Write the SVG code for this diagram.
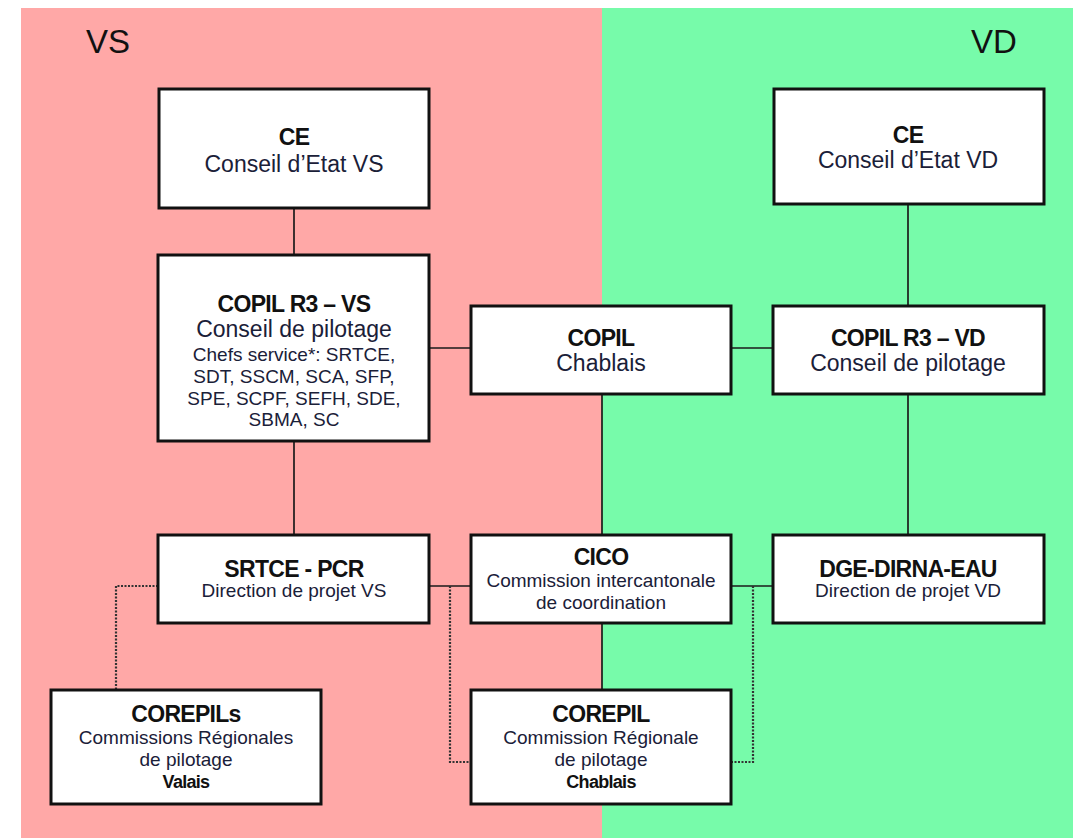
<svg xmlns="http://www.w3.org/2000/svg" width="1078" height="839" viewBox="0 0 1078 839">
<style>
.box{fill:#fff;stroke:#111;stroke-width:3}
.t{font-family:"Liberation Sans",Arial,sans-serif;font-size:23px;font-weight:bold;fill:#111;text-anchor:middle;letter-spacing:-0.7px}
.s{font-family:"Liberation Sans",Arial,sans-serif;font-size:23px;fill:#1a2038;text-anchor:middle}
.m{font-family:"Liberation Sans",Arial,sans-serif;font-size:19px;fill:#1a2038;text-anchor:middle}
.b{font-family:"Liberation Sans",Arial,sans-serif;font-size:18px;font-weight:bold;fill:#111;text-anchor:middle;letter-spacing:-0.7px}
.h{font-family:"Liberation Sans",Arial,sans-serif;font-size:33px;fill:#111}
.ln{stroke:#1a1a1a;stroke-width:1.7;fill:none}
.dt{stroke:#333;stroke-width:2.2;stroke-dasharray:2 1.5;fill:none}
</style>
<rect x="0" y="0" width="1078" height="839" fill="#fff"/>
<rect x="21" y="8" width="581" height="830" fill="#ffa8a7"/>
<rect x="602" y="8" width="471" height="830" fill="#77fbaa"/>
<text class="h" x="86" y="53">VS</text>
<text class="h" x="971" y="53">VD</text>

<g id="connectors">
<line class="ln" x1="294" y1="207" x2="294" y2="255"/>
<line class="ln" x1="908" y1="204" x2="908" y2="306"/>
<line class="ln" x1="429" y1="348" x2="471" y2="348"/>
<line class="ln" x1="731" y1="348" x2="773" y2="348"/>
<line class="ln" x1="908" y1="394" x2="908" y2="535"/>
<line class="ln" x1="294" y1="441" x2="294" y2="535"/>
<line class="ln" x1="602" y1="394" x2="602" y2="535"/>
<line class="ln" x1="602" y1="623" x2="602" y2="690"/>
<line class="ln" x1="429" y1="586" x2="471" y2="586"/>
<line class="ln" x1="731" y1="586" x2="773" y2="586"/>
<path class="dt" d="M158 586 H116 V690"/>
<path class="dt" d="M450 586 V762 H471"/>
<path class="dt" d="M753 586 V762 H731"/>
</g>

<g id="ce-vs">
<rect class="box" x="159" y="89" width="270" height="119"/>
<text class="t" x="294" y="145">CE</text>
<text class="s" x="294" y="172">Conseil d’Etat VS</text>
</g>
<g id="ce-vd">
<rect class="box" x="774" y="89" width="270" height="115"/>
<text class="t" x="908" y="143">CE</text>
<text class="s" x="908" y="168">Conseil d’Etat VD</text>
</g>
<g id="copil-vs">
<rect class="box" x="158" y="255" width="271" height="186"/>
<text class="t" x="294" y="312">COPIL R3 – VS</text>
<text class="s" x="294" y="337">Conseil de pilotage</text>
<text class="m" x="294" y="361">Chefs service*: SRTCE,</text>
<text class="m" x="294" y="383">SDT, SSCM, SCA, SFP,</text>
<text class="m" x="294" y="405">SPE, SCPF, SEFH, SDE,</text>
<text class="m" x="294" y="426">SBMA, SC</text>
</g>
<g id="copil-chablais">
<rect class="box" x="471" y="306" width="260" height="88"/>
<text class="t" x="601" y="346">COPIL</text>
<text class="s" x="601" y="371">Chablais</text>
</g>
<g id="copil-vd">
<rect class="box" x="773" y="306" width="271" height="88"/>
<text class="t" x="908" y="346">COPIL R3 – VD</text>
<text class="s" x="908" y="371">Conseil de pilotage</text>
</g>
<g id="srtce">
<rect class="box" x="158" y="535" width="271" height="88"/>
<text class="t" x="294" y="577">SRTCE - PCR</text>
<text class="m" x="294" y="597">Direction de projet VS</text>
</g>
<g id="cico">
<rect class="box" x="471" y="535" width="260" height="88"/>
<text class="t" x="601" y="565">CICO</text>
<text class="m" x="601" y="587">Commission intercantonale</text>
<text class="m" x="601" y="609">de coordination</text>
</g>
<g id="dge">
<rect class="box" x="773" y="535" width="271" height="88"/>
<text class="t" x="908" y="577">DGE-DIRNA-EAU</text>
<text class="m" x="908" y="597">Direction de projet VD</text>
</g>
<g id="corepils">
<rect class="box" x="51" y="690" width="270" height="114"/>
<text class="t" x="186" y="722">COREPILs</text>
<text class="m" x="186" y="744">Commissions Régionales</text>
<text class="m" x="186" y="766">de pilotage</text>
<text class="b" x="186" y="788">Valais</text>
</g>
<g id="corepil">
<rect class="box" x="471" y="690" width="260" height="114"/>
<text class="t" x="601" y="722">COREPIL</text>
<text class="m" x="601" y="744">Commission Régionale</text>
<text class="m" x="601" y="766">de pilotage</text>
<text class="b" x="601" y="788">Chablais</text>
</g>
</svg>
